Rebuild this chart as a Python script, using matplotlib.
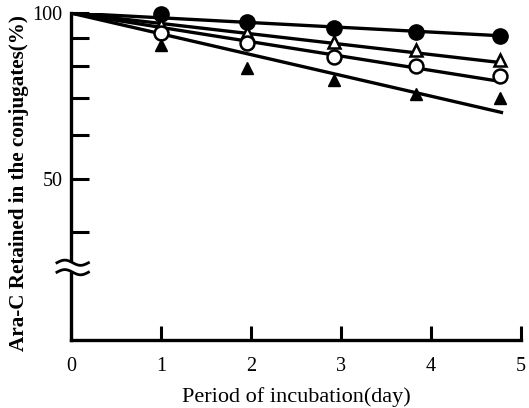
import numpy as np
import matplotlib
matplotlib.use('Agg')
import matplotlib.pyplot as plt
from matplotlib.ticker import FixedLocator, FixedFormatter, NullLocator

plt.rcParams['font.family'] = ['Liberation Serif', 'DejaVu Serif']

# incubation day of the measured points (as placed in the figure)
days = [1.0, 1.96, 2.92, 3.83, 4.77]

# % Ara-C retained
filled_circle = [99.8, 96.3, 93.9, 92.4, 90.9]
open_triangle = [95.0, 92.0, 88.6, 85.7, 82.2]
open_circle = [92.0, 88.2, 83.2, 80.1, 76.9]
filled_triangle = [87.5, 79.5, 75.6, 71.3, 70.1]

# fitted first-order lines: start at day 0 (100 %) and end at day 4.8
fit_days = [0, 4.8]
fit_filled_circle = [100, 90.9]
fit_open_triangle = [100, 81.2]
fit_open_circle = [100, 75.0]
fit_filled_triangle = [100, 65.9]

y_ticks = [40, 50, 60, 70, 80, 90, 100]
y_labels = ['', '50', '', '', '', '', '100']
x_ticks = [0, 1, 2, 3, 4, 5]

fig = plt.figure(figsize=(5.29, 4.08), dpi=100)
ax = fig.add_axes([0.134, 0.167, 0.851, 0.801])

lw = 2.4
for yy in [fit_filled_circle, fit_open_triangle, fit_open_circle, fit_filled_triangle]:
    ax.plot(fit_days, yy, color='black', lw=lw, solid_capstyle='butt', zorder=2)

ax.plot(days, filled_circle, 'o', color='black', ms=11, zorder=3, clip_on=False)
ax.plot(days, open_triangle, '^', mfc='white', mec='black', mew=1.8, ms=9, zorder=3, clip_on=False)
ax.plot(days, open_circle, 'o', mfc='white', mec='black', mew=1.8, ms=10, zorder=3, clip_on=False)
ax.plot(days, filled_triangle, '^', color='black', ms=9, zorder=3, clip_on=False)

ax.set_yscale('log')
ax.set_ylim(25.5, 100)
ax.set_xlim(0, 5)

ax.yaxis.set_major_locator(FixedLocator(y_ticks))
ax.yaxis.set_major_formatter(FixedFormatter(y_labels))
ax.yaxis.set_minor_locator(NullLocator())
ax.set_xticks(x_ticks)
ax.set_xticklabels([str(t) for t in x_ticks])

ax.tick_params(axis='y', direction='in', length=13, width=2.2, labelsize=14.5, pad=6)
ax.tick_params(axis='x', direction='in', length=10, width=2.2, labelsize=14.5, pad=12)

for side in ['top', 'right']:
    ax.spines[side].set_visible(False)
for side in ['left', 'bottom']:
    ax.spines[side].set_linewidth(2.4)

ax.set_xlabel('Period of incubation(day)', fontsize=16, labelpad=8)
ax.set_ylabel('Ara-C Retained in the conjugates(%)', fontsize=15.2, fontweight='bold')
ax.yaxis.set_label_coords(-0.094, 0.48)

# axis break marks on the y axis: two horizontal waves with a gap
ax.add_patch(plt.Rectangle((-0.02, 0.21), 0.04, 0.024, transform=ax.transAxes,
                           color='white', clip_on=False, zorder=4))
t = np.linspace(0, 1, 40)
for yc in [0.236, 0.207]:
    xs = -0.031 + 0.07 * t
    ys = yc + 0.008 * np.sin(2 * np.pi * t)
    ax.plot(xs, ys, color='black', lw=2.0, transform=ax.transAxes, clip_on=False, zorder=5)

fig.savefig('out.png', dpi=100)
